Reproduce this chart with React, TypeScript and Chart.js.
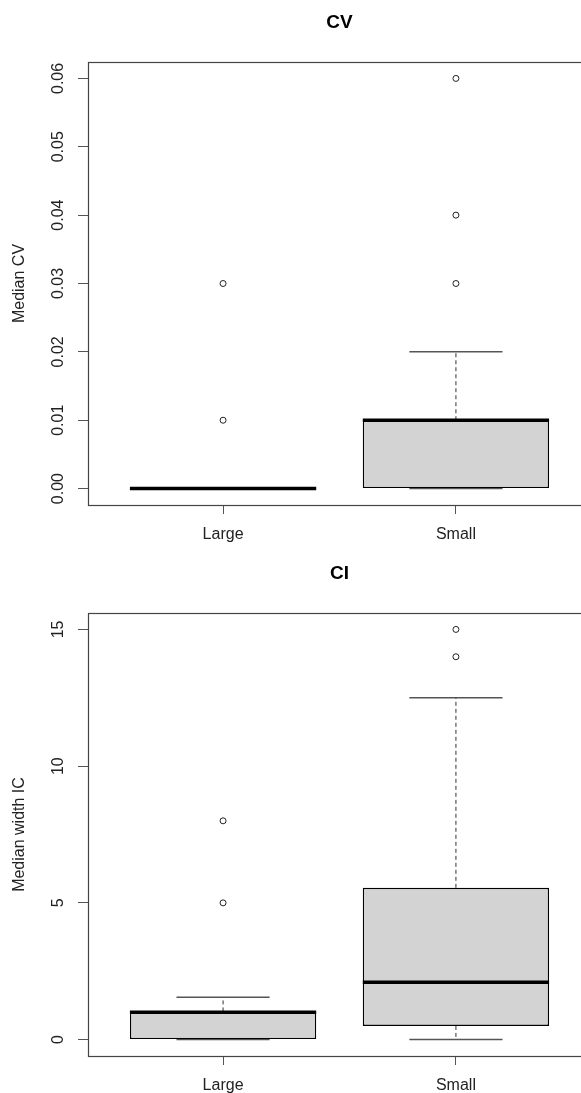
import React, { useEffect, useRef } from 'react';
import { Chart, registerables } from 'chart.js';

Chart.register(...registerables);

// ---------- data ----------
const groups = ['Large', 'Small'];
const groupPositions = [1, 2];

// Panel "CV"
const cvLowerWhisker = [0, 0];
const cvQ1 = [0, 0];
const cvMedian = [0, 0.01];
const cvQ3 = [0, 0.01];
const cvUpperWhisker = [0, 0.02];
const cvOutliers = [
  [0.01, 0.03],
  [0.03, 0.04, 0.06],
];
const cvTicks = [0, 0.01, 0.02, 0.03, 0.04, 0.05, 0.06];
const cvTickLabels = ['0.00', '0.01', '0.02', '0.03', '0.04', '0.05', '0.06'];

// Panel "CI"
const ciLowerWhisker = [0, 0];
const ciQ1 = [0, 0.5];
const ciMedian = [1.0, 2.1];
const ciQ3 = [1.03, 5.55];
const ciUpperWhisker = [1.55, 12.5];
const ciOutliers = [
  [5, 8],
  [14, 15],
];
const ciTicks = [0, 5, 10, 15];
const ciTickLabels = ['0', '5', '10', '15'];

// ---------- styling constants ----------
const FONT = '"Liberation Sans", Arial, Helvetica, sans-serif';
const BOX_HALF = 0.4;
const STAPLE_HALF = 0.2;
const AXIS_WIDTH = 88;
const TICK_LEN = 10;
const Y_LABEL_CENTER = 58.5;
const CANVAS_W = 600;

Chart.defaults.font.family = FONT;

type Panel = {
  title: string;
  yTitle: string;
  lower: number[];
  q1: number[];
  med: number[];
  q3: number[];
  upper: number[];
  outliers: number[][];
  ticks: number[];
  tickLabels: string[];
  titlePadTop: number;
  titlePadBottom: number;
  xAxisHeight: number;
};

const cvPanel: Panel = {
  title: 'CV',
  yTitle: 'Median CV',
  lower: cvLowerWhisker,
  q1: cvQ1,
  med: cvMedian,
  q3: cvQ3,
  upper: cvUpperWhisker,
  outliers: cvOutliers,
  ticks: cvTicks,
  tickLabels: cvTickLabels,
  titlePadTop: 11.3,
  titlePadBottom: 27.9,
  xAxisHeight: 41,
};

const ciPanel: Panel = {
  title: 'CI',
  yTitle: 'Median width IC',
  lower: ciLowerWhisker,
  q1: ciQ1,
  med: ciMedian,
  q3: ciQ3,
  upper: ciUpperWhisker,
  outliers: ciOutliers,
  ticks: ciTicks,
  tickLabels: ciTickLabels,
  titlePadTop: 16.1,
  titlePadBottom: 28.1,
  xAxisHeight: 37,
};

function measureWidest(labels: string[], font: string): number {
  const c = document.createElement('canvas');
  const ctx = c.getContext('2d')!;
  ctx.font = font;
  return Math.max(...labels.map((l) => ctx.measureText(l).width));
}

const framePlugin = {
  id: 'rFrame',
  afterDatasetsDraw(chart: any) {
    const { ctx, chartArea } = chart;
    const l = Math.round(chartArea.left) + 0.5;
    const t = Math.round(chartArea.top) + 0.5;
    const r = Math.round(chartArea.right) + 0.5;
    const b = Math.round(chartArea.bottom) + 0.5;
    ctx.save();
    ctx.strokeStyle = '#444';
    ctx.lineWidth = 1.2;
    ctx.strokeRect(l, t, r - l, b - t);
    ctx.restore();
  },
};

function buildConfig(p: Panel): any {
  const boxes: any[] = [];
  const medians: any[] = [];
  const whiskers: any[] = [];
  const staples: any[] = [];
  const outs: any[] = [];
  groupPositions.forEach((x, i) => {
    boxes.push({ x, y: [p.q1[i], p.q3[i]] });
    medians.push({ x: x - BOX_HALF, y: p.med[i] }, { x: x + BOX_HALF, y: p.med[i] }, { x, y: null });
    whiskers.push(
      { x, y: p.q3[i] },
      { x, y: p.upper[i] },
      { x, y: null },
      { x, y: p.q1[i] },
      { x, y: p.lower[i] },
      { x, y: null }
    );
    staples.push(
      { x: x - STAPLE_HALF, y: p.upper[i] },
      { x: x + STAPLE_HALF, y: p.upper[i] },
      { x, y: null },
      { x: x - STAPLE_HALF, y: p.lower[i] },
      { x: x + STAPLE_HALF, y: p.lower[i] },
      { x, y: null }
    );
    p.outliers[i].forEach((v) => outs.push({ x, y: v }));
  });

  // R-style 4% axis extension
  const all = [...p.lower, ...p.upper, ...p.outliers.flat()];
  const lo = Math.min(...all);
  const hi = Math.max(...all);
  const ext = (hi - lo) * 0.04;
  const xLo = 0.5 - 0.04 * groups.length;
  const xHi = groups.length + 0.5 + 0.04 * groups.length;

  const tickFont = `16px ${FONT}`;
  const widest = measureWidest(p.tickLabels, tickFont);
  const yPad = AXIS_WIDTH - TICK_LEN - widest / 2 - Y_LABEL_CENTER;

  return {
    type: 'bar',
    data: {
      datasets: [
        {
          type: 'line',
          data: medians,
          borderColor: '#000',
          borderWidth: 3.5,
          pointRadius: 0,
          spanGaps: false,
          borderCapStyle: 'butt',
          order: 0,
        },
        {
          type: 'scatter',
          data: outs,
          pointRadius: 3,
          pointBorderWidth: 1,
          pointBackgroundColor: 'rgba(255,255,255,0)',
          pointBorderColor: '#222',
          order: 1,
        },
        {
          type: 'bar',
          data: boxes,
          backgroundColor: '#d3d3d3',
          borderColor: '#000',
          borderWidth: 1.4,
          borderSkipped: false,
          categoryPercentage: 0.8,
          barPercentage: 1,
          order: 2,
        },
        {
          type: 'line',
          data: whiskers,
          borderColor: '#333',
          borderWidth: 1,
          borderDash: [4, 3],
          pointRadius: 0,
          spanGaps: false,
          order: 3,
        },
        {
          type: 'line',
          data: staples,
          borderColor: '#555',
          borderWidth: 1.5,
          pointRadius: 0,
          spanGaps: false,
          order: 3,
        },
      ],
    },
    options: {
      animation: false,
      responsive: false,
      events: [],
      layout: { padding: { left: 0, right: 9, top: 0, bottom: 0 } },
      plugins: {
        legend: { display: false },
        tooltip: { enabled: false },
        title: {
          display: true,
          text: p.title,
          fullSize: false,
          color: '#000',
          font: { family: FONT, size: 19, weight: 'bold' },
          padding: { top: p.titlePadTop, bottom: p.titlePadBottom },
        },
      },
      scales: {
        x: {
          type: 'linear',
          min: xLo,
          max: xHi,
          offset: false,
          afterBuildTicks: (s: any) => {
            s.ticks = groupPositions.map((v) => ({ value: v }));
          },
          afterFit: (s: any) => {
            s.height = p.xAxisHeight;
          },
          ticks: {
            autoSkip: false,
            minRotation: 0,
            maxRotation: 0,
            padding: 11,
            color: '#222',
            font: { family: FONT, size: 16 },
            callback: (_v: any, i: number) => groups[i],
          },
          grid: {
            offset: false,
            drawOnChartArea: false,
            drawTicks: true,
            tickLength: 9,
            color: '#555',
            tickColor: '#555',
          },
          border: { display: false },
        },
        y: {
          type: 'linear',
          min: lo - ext,
          max: hi + ext,
          afterBuildTicks: (s: any) => {
            s.ticks = p.ticks.map((v) => ({ value: v }));
          },
          afterFit: (s: any) => {
            s.width = AXIS_WIDTH;
          },
          ticks: {
            autoSkip: false,
            minRotation: 90,
            maxRotation: 90,
            crossAlign: 'center',
            padding: yPad,
            color: '#222',
            font: { family: FONT, size: 16 },
            callback: (_v: any, i: number) => p.tickLabels[i],
          },
          grid: {
            drawOnChartArea: false,
            drawTicks: true,
            tickLength: TICK_LEN,
            color: '#555',
            tickColor: '#555',
          },
          border: { display: false },
          title: {
            display: true,
            text: p.yTitle,
            color: '#222',
            font: { family: FONT, size: 16 },
            padding: { top: 10.4, bottom: 0 },
          },
        },
      },
    },
    plugins: [framePlugin],
  };
}

function BoxPanel({ panel, top, height }: { panel: Panel; top: number; height: number }) {
  const ref = useRef<HTMLCanvasElement>(null);
  useEffect(() => {
    const chart = new Chart(ref.current!, buildConfig(panel));
    return () => chart.destroy();
  }, [panel]);
  return (
    <canvas
      ref={ref}
      width={CANVAS_W}
      height={height}
      style={{ position: 'absolute', left: 0, top, width: CANVAS_W, height, display: 'block' }}
    />
  );
}

export default function App() {
  return (
    <div
      style={{
        position: 'absolute',
        left: 0,
        top: 0,
        width: 581,
        height: 1093,
        overflow: 'hidden',
        background: '#fff',
      }}
    >
      <BoxPanel panel={cvPanel} top={0} height={546} />
      <BoxPanel panel={ciPanel} top={546} height={547} />
    </div>
  );
}
